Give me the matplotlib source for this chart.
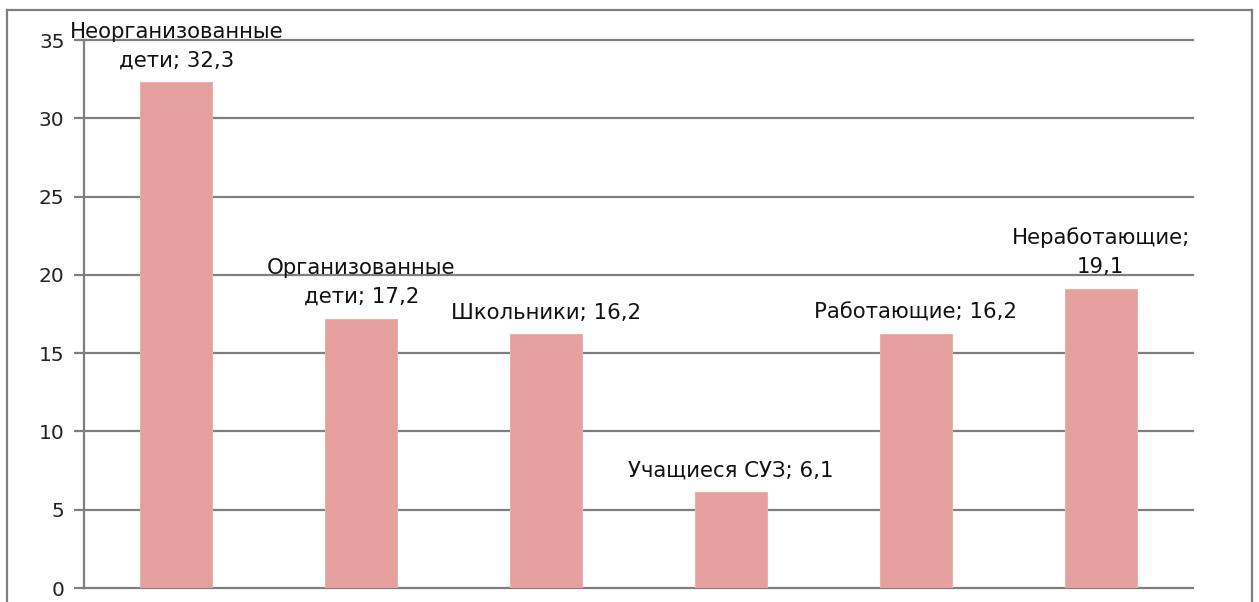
import matplotlib
matplotlib.use("Agg")
import matplotlib.pyplot as plt
from matplotlib.lines import Line2D

# categories and values
categories = ["Неорганизованные\nдети", "Организованные\nдети", "Школьники",
              "Учащиеся СУЗ", "Работающие", "Неработающие"]
values = [32.3, 17.2, 16.2, 6.1, 16.2, 19.1]
value_text = ["32,3", "17,2", "16,2", "6,1", "16,2", "19,1"]
yticks = [0, 5, 10, 15, 20, 25, 30, 35]

grid_col = "#7f7f7f"
bar_col = "#e5a09e"

fig = plt.figure(figsize=(12.59, 6.02), dpi=100)
ax = fig.add_axes([84/1259, 1-588/602, (1193-84)/1259, (588-40)/602])

x = range(len(values))
ax.bar(x, values, width=0.39, color=bar_col, edgecolor="#e8b0ae", linewidth=0.8, zorder=3)

ax.set_xlim(-0.5, len(values)-0.5)
ax.set_ylim(0, 35)
ax.set_yticks(yticks)
ax.set_yticklabels([str(t) for t in yticks], fontsize=14.5, color="#222222")
ax.set_xticks([])
ax.tick_params(axis="y", length=7, width=1.6, color=grid_col, pad=7)
ax.grid(axis="y", color=grid_col, linewidth=1.6, zorder=0)
for gl in ax.yaxis.get_gridlines():
    gl.set_clip_on(False)
for s in ["top", "right", "bottom"]:
    ax.spines[s].set_visible(False)
ax.spines["left"].set_color(grid_col)
ax.spines["left"].set_linewidth(1.6)

for i, v in enumerate(values):
    name = categories[i]
    if i == 5:
        lab = name + ";\n" + value_text[i]
    else:
        lab = name + "; " + value_text[i]
    ax.annotate(lab, (i, v), xytext=(0, 8.5), textcoords="offset points",
                ha="center", va="bottom", fontsize=15.3, color="#111111",
                linespacing=1.55, zorder=5)

# outer frame of the chart area
fx0, fx1, fy1 = 7/1259, 1252/1259, 1-10/602
fig.add_artist(Line2D([fx0, fx0], [0, fy1], color=grid_col, lw=1.6, transform=fig.transFigure))
fig.add_artist(Line2D([fx0, fx1], [fy1, fy1], color=grid_col, lw=1.6, transform=fig.transFigure))
fig.add_artist(Line2D([fx1, fx1], [0, fy1], color=grid_col, lw=1.6, transform=fig.transFigure))

fig.savefig("out.png", dpi=100)
